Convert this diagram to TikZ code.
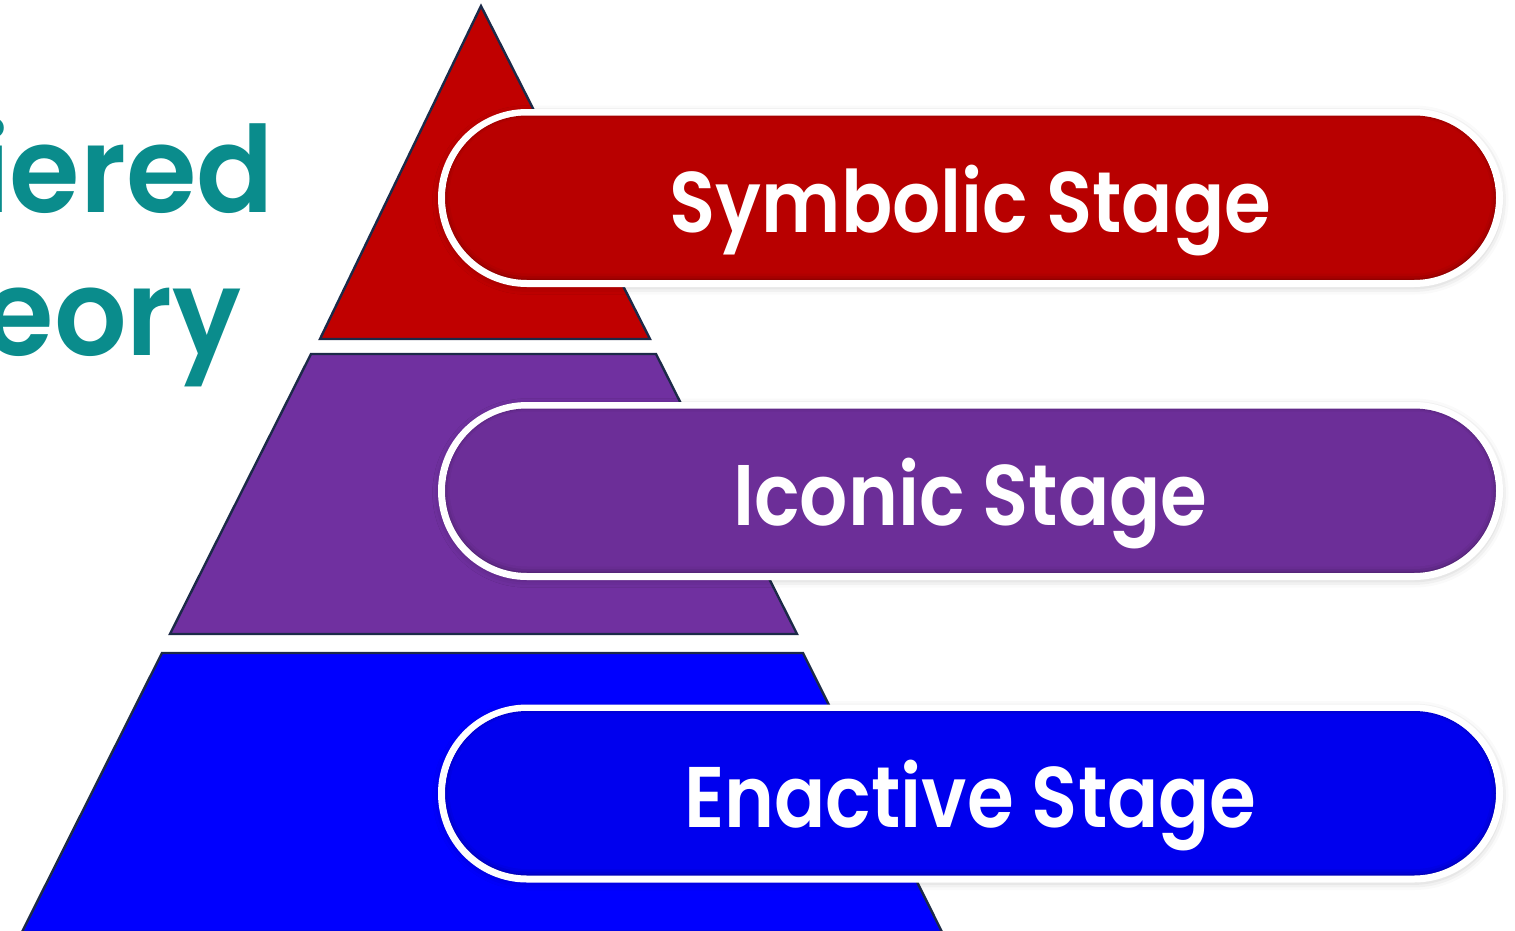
\documentclass[tikz,border=0pt]{standalone}
\usepackage{fontspec}
\usepackage{graphicx}
\newfontfamily\stagefont{Poppins}[BoldFont={* SemiBold}]
\usetikzlibrary{shapes.misc,shadows.blur}

\definecolor{teal1}{RGB}{10,140,140}
\definecolor{edge}{RGB}{28,42,72}
\definecolor{tierred}{RGB}{192,0,0}
\definecolor{tierpurple}{RGB}{112,48,160}
\definecolor{tierblue}{RGB}{0,0,255}
\definecolor{pillred}{RGB}{184,0,0}
\definecolor{pillpurple}{RGB}{108,46,152}
\definecolor{pillblue}{RGB}{0,0,238}

\newcommand{\narrow}[2]{\scalebox{#1}[1]{#2}}

\tikzset{
  tier/.style={draw=edge, line width=2.4pt, line join=miter},
  pill/.style={shape=rounded rectangle, minimum width=1058pt, minimum height=171pt,
    inner sep=0pt, draw=white, line width=7pt, fill=#1,
    blur shadow={shadow xshift=0pt, shadow yshift=-2pt, shadow blur radius=9pt, shadow opacity=30}},
  glow/.style={shape=rounded rectangle, inner sep=0pt, draw=none, fill=#1},
  stagetext/.style={text=white, font=\stagefont\bfseries\fontsize{86}{88}\selectfont, inner sep=0pt, anchor=base},
  titletext/.style={text=teal1, font=\stagefont\bfseries\fontsize{120}{122}\selectfont, inner sep=0pt, anchor=base east}
}

\begin{document}
\begin{tikzpicture}[x=1pt,y=-1pt]
  \useasboundingbox (0,0) rectangle (1515,930);
  \clip (0,0) rectangle (1515,930);

  % heading, running in from the left
  \node[titletext] (title1) at (274,212) {\narrow{0.95}{iered}};
  \node[titletext] (title2) at (242,355) {\narrow{0.95}{eory}};

  % three tiers of the pyramid
  \draw[tier, fill=tierred] (481,6) -- (650,339) -- (320,339) -- cycle;
  \draw[tier, fill=tierpurple] (311,354) -- (656,354) -- (797,634) -- (170,634) -- cycle;
  \draw[tier, fill=tierblue] (162,653) -- (803,653) -- (942,932) -- (22,932) -- cycle;

  % stage labels in rounded bars
  \foreach \name/\yy/\col/\txt in {symbolic/198/pillred/Symbolic Stage,
                                   iconic/491/pillpurple/Iconic Stage,
                                   enactive/793.5/pillblue/Enactive Stage}{
    \node[pill=\col!80!black] (\name) at (970.5,\yy) {};
    \node[glow=\col!90!black, minimum width=1050pt, minimum height=163pt] (\name-a) at (970.5,\yy-1) {};
    \node[glow=\col!96!black, minimum width=1046pt, minimum height=159pt] (\name-b) at (970.5,\yy-1.5) {};
    \node[glow=\col, minimum width=1042pt, minimum height=155pt] (\name-c) at (970.5,\yy-2) {};
    \node[stagetext] (\name-t) at (970.5,\yy+34) {\narrow{0.88}{\txt}};
  }
\end{tikzpicture}
\end{document}
